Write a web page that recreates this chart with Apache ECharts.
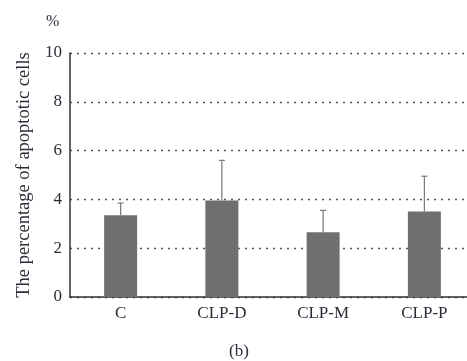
<!DOCTYPE html>
<html>
<head>
<meta charset="utf-8">
<script src="https://cdn.jsdelivr.net/npm/echarts@6/dist/echarts.min.js"></script>
<style>html,body{margin:0;padding:0;background:#fff;}#c{width:467px;height:361px;}</style>
</head>
<body>
<div id="c"></div>
<script>
var categories = ['C', 'CLP-D', 'CLP-M', 'CLP-P'];
var values = [3.35, 3.95, 2.65, 3.5];
var errorTops = [3.85, 5.6, 3.55, 4.95];
var yTicks = [0, 2, 4, 6, 8, 10];

var chart = echarts.init(document.getElementById('c'));
var font = '"Liberation Serif", "DejaVu Serif", serif';
var txt = '#2c2c38';
var errData = categories.map(function (c, i) { return [i, values[i], errorTops[i]]; });

chart.setOption({
  animation: false,
  grid: { left: 70, top: 53, width: 405, height: 244, outerBoundsMode: 'none', containLabel: false },
  graphic: [
    { type: 'text', left: 46, top: 14, style: { text: '%', font: '16px ' + font, fill: txt } },
    { type: 'text', left: 229, top: 343, style: { text: '(b)', font: '17px ' + font, fill: txt } }
  ],
  xAxis: {
    type: 'category',
    data: categories,
    axisLine: { lineStyle: { color: '#333', width: 1.5 } },
    axisTick: { show: false },
    axisLabel: { color: txt, fontFamily: font, fontSize: 17, margin: 8 },
    splitLine: { show: false }
  },
  yAxis: {
    type: 'value',
    min: 0, max: 10, interval: 2,
    name: 'The percentage of apoptotic cells',
    nameLocation: 'middle',
    nameGap: 36,
    nameTextStyle: { color: txt, fontFamily: font, fontSize: 18.5 },
    axisLine: { show: true, lineStyle: { color: '#333', width: 1.5 } },
    axisTick: { show: false },
    axisLabel: { color: txt, fontFamily: font, fontSize: 17, margin: 8,
      formatter: function (v) { return yTicks.indexOf(v) >= 0 ? String(v) : ''; } },
    splitLine: { show: true, lineStyle: { color: '#555', type: [2, 5], width: 1.3 } }
  },
  series: [
    {
      type: 'bar',
      data: values,
      barWidth: 33,
      itemStyle: { color: '#6f6f6f' },
      z: 2
    },
    {
      type: 'custom',
      data: errData,
      z: 1,
      renderItem: function (params, api) {
        var x = api.value(0);
        var base = api.coord([x, api.value(1)]);
        var top = api.coord([x, api.value(2)]);
        var hw = 3;
        return {
          type: 'group',
          children: [
            { type: 'line', shape: { x1: base[0], y1: base[1], x2: top[0], y2: top[1] }, style: { stroke: '#777', lineWidth: 1.2 } },
            { type: 'line', shape: { x1: top[0] - hw, y1: top[1], x2: top[0] + hw, y2: top[1] }, style: { stroke: '#777', lineWidth: 1.2 } }
          ]
        };
      }
    }
  ]
});
</script>
</body>
</html>
